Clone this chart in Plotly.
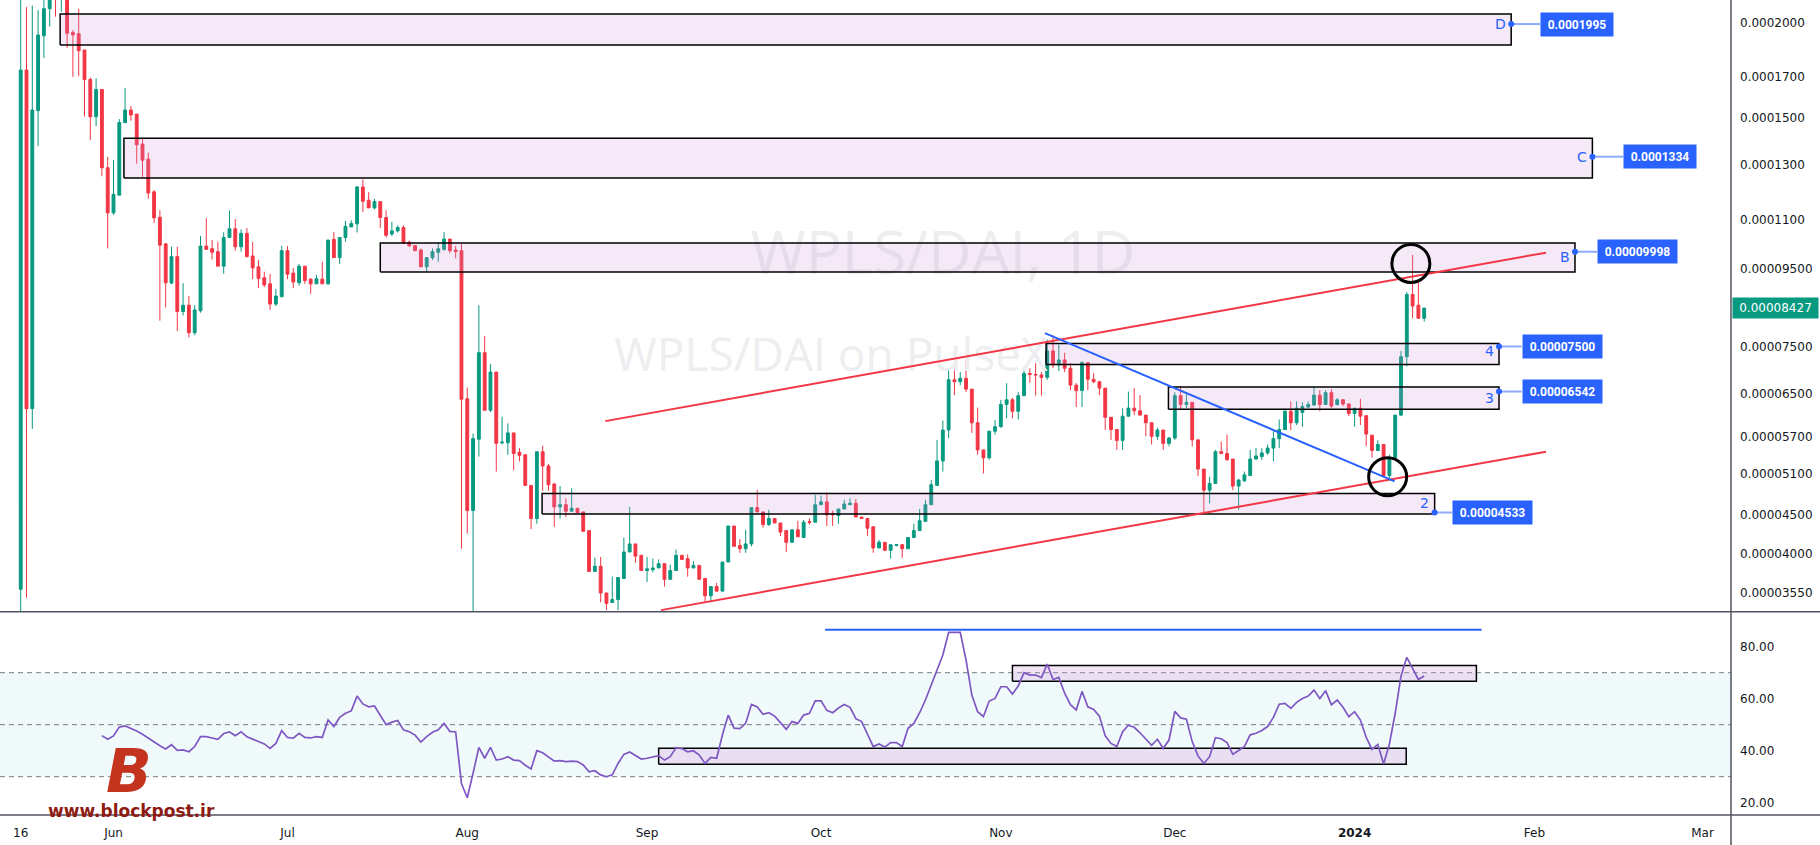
import numpy as np
import pandas as pd
import plotly.graph_objects as go

# ---------------- data (prices in units of 1e-5) ----------------
START = pd.Timestamp("2023-05-16")
SCALE = 1e-5

opens = [
    3.59, 17.35, 6.21, 15.34, 19.25, 20.9, 22.8, 21.7, 22.2, 19.45,
    19.37, 18.44, 16.86, 15.06, 16.36, 12.9, 11.25, 11.87, 14.79, 15.37,
    15.18, 13.86, 13.24, 11.99, 11.1, 10.24, 9.09, 9.85, 8.34, 8.5,
    7.82, 8.36, 10.17, 10.09, 10.0, 9.57, 10.44, 10.72, 10.15, 10.57,
    9.87, 9.55, 9.24, 9.07, 8.53, 8.72, 10.03, 9.37, 9.1, 9.57,
    9.2, 9.07, 9.2, 9.07, 10.38, 9.82, 10.44, 10.78, 10.88, 12.17,
    11.69, 11.42, 11.64, 11.09, 10.55, 10.65, 10.76, 10.29, 10.19, 10.05,
    9.55, 9.82, 9.98, 10.07, 10.39, 10.05, 10.03, 6.4, 4.56, 5.66,
    7.36, 6.18, 6.94, 5.6, 5.6, 5.77, 5.44, 5.4, 4.92, 4.45,
    5.45, 5.22, 4.94, 4.61, 4.64, 4.55, 4.59, 4.54, 4.29, 3.79,
    3.85, 3.55, 3.45, 3.48, 3.71, 4.02, 4.12, 3.98, 3.8, 3.81,
    3.83, 3.88, 3.7, 3.8, 3.98, 3.94, 3.83, 3.86, 3.71, 3.52,
    3.62, 3.57, 3.9, 4.35, 4.1, 4.06, 4.12, 4.6, 4.54, 4.37,
    4.45, 4.39, 4.29, 4.14, 4.3, 4.2, 4.41, 4.4, 4.64, 4.68,
    4.52, 4.49, 4.58, 4.64, 4.66, 4.47, 4.45, 4.34, 4.07, 4.14,
    4.04, 4.1, 4.11, 4.06, 4.2, 4.29, 4.41, 4.64, 4.92, 5.3,
    5.82, 6.78, 6.74, 6.81, 6.59, 5.95, 5.48, 5.35, 5.8, 5.88,
    6.29, 6.38, 6.16, 6.46, 6.91, 6.89, 6.88, 6.83, 7.4, 7.09,
    7.2, 7.02, 6.67, 6.56, 7.14, 6.79, 6.74, 6.61, 6.05, 5.83,
    5.64, 6.07, 6.22, 6.17, 6.09, 5.95, 5.71, 5.82, 5.59, 5.68,
    6.46, 6.29, 6.33, 5.65, 5.17, 4.85, 4.95, 5.45, 5.42, 5.33,
    4.91, 4.99, 5.07, 5.33, 5.37, 5.43, 5.51, 5.67, 5.83, 6.16,
    5.95, 6.14, 6.24, 6.28, 6.47, 6.29, 6.52, 6.29, 6.38, 6.3,
    6.12, 6.22, 6.08, 5.73, 5.47, 5.57, 5.07, 5.35, 6.09, 7.27,
    8.78, 8.5, 8.17,
]
highs = [
    22.5, 21.0, 21.1, 20.81, 21.8, 23.0, 23.5, 23.0, 22.6, 19.59,
    20.9, 18.44, 16.97, 16.92, 16.36, 13.33, 13.2, 14.95, 16.43, 15.56,
    15.18, 14.08, 13.51, 12.05, 11.34, 10.26, 10.15, 10.15, 9.09, 8.74,
    8.5, 10.49, 11.07, 10.36, 10.31, 10.61, 11.32, 11.04, 10.7, 10.74,
    10.3, 9.75, 9.41, 9.35, 8.93, 10.18, 10.17, 9.52, 9.63, 9.57,
    9.23, 9.32, 9.7, 10.36, 10.62, 10.44, 10.98, 11.0, 12.2, 12.45,
    11.98, 11.74, 11.64, 11.34, 10.95, 10.83, 10.83, 10.34, 10.19, 10.1,
    9.82, 10.1, 10.29, 10.61, 10.39, 10.18, 10.24, 6.62, 5.76, 8.5,
    7.74, 7.11, 6.94, 6.06, 5.94, 5.77, 5.51, 5.4, 4.92, 5.45,
    5.55, 5.25, 4.96, 4.91, 4.73, 4.88, 4.59, 4.54, 4.29, 3.95,
    3.96, 3.55, 3.73, 3.72, 4.2, 4.61, 4.12, 3.98, 3.96, 3.94,
    3.93, 3.88, 3.87, 4.05, 3.98, 3.99, 3.91, 3.86, 3.71, 3.62,
    3.66, 3.9, 4.35, 4.35, 4.18, 4.3, 4.6, 4.85, 4.54, 4.57,
    4.45, 4.39, 4.29, 4.3, 4.42, 4.43, 4.45, 4.78, 4.77, 4.82,
    4.56, 4.58, 4.71, 4.73, 4.72, 4.47, 4.45, 4.34, 4.17, 4.14,
    4.11, 4.12, 4.11, 4.2, 4.38, 4.58, 4.71, 5.0, 5.65, 5.99,
    7.02, 7.49, 6.94, 7.21, 6.59, 6.23, 5.48, 5.8, 6.0, 6.38,
    6.71, 6.42, 6.53, 7.02, 7.02, 7.13, 6.94, 7.66, 7.76, 7.54,
    7.36, 7.13, 6.71, 7.17, 7.14, 6.92, 6.74, 6.61, 6.05, 5.83,
    6.22, 6.54, 6.61, 6.47, 6.09, 5.95, 5.86, 5.82, 5.7, 6.53,
    6.65, 6.53, 6.33, 5.65, 5.17, 5.05, 5.48, 5.62, 5.74, 5.33,
    5.02, 5.13, 5.48, 5.51, 5.51, 5.57, 5.8, 6.01, 6.22, 6.35,
    6.35, 6.33, 6.35, 6.64, 6.57, 6.57, 6.59, 6.41, 6.39, 6.3,
    6.22, 6.4, 6.08, 5.73, 5.64, 5.57, 5.4, 6.09, 7.4, 8.85,
    9.9, 9.18, 8.43,
]
lows = [
    3.36, 3.50, 5.84, 13.79, 18.0, 19.8, 20.4, 20.7, 18.56, 17.0,
    17.03, 15.06, 14.03, 14.64, 12.57, 10.1, 11.18, 11.87, 14.79, 14.88,
    13.06, 12.55, 11.74, 10.91, 8.11, 8.44, 9.06, 7.86, 8.24, 7.71,
    7.76, 8.31, 10.07, 9.77, 9.57, 9.35, 10.44, 10.03, 10.0, 9.83,
    9.2, 8.95, 8.98, 8.38, 8.48, 8.72, 9.2, 8.95, 9.02, 9.07,
    8.8, 9.07, 9.07, 9.04, 9.82, 9.63, 10.31, 10.78, 10.6, 11.28,
    11.42, 11.37, 10.75, 10.44, 10.49, 10.6, 10.26, 10.14, 10.03, 9.55,
    9.41, 9.75, 9.7, 10.03, 9.95, 9.8, 4.06, 4.25, 3.3, 5.37,
    6.18, 6.15, 5.13, 5.57, 5.4, 5.15, 5.29, 4.92, 4.31, 4.38,
    4.84, 4.84, 4.34, 4.45, 4.47, 4.55, 4.53, 4.28, 3.79, 3.79,
    3.45, 3.37, 3.45, 3.37, 3.71, 4.02, 3.89, 3.8, 3.67, 3.78,
    3.83, 3.62, 3.7, 3.8, 3.93, 3.73, 3.83, 3.7, 3.45, 3.46,
    3.57, 3.57, 3.9, 4.09, 4.01, 4.01, 4.09, 4.54, 4.33, 4.35,
    4.39, 4.22, 4.02, 4.14, 4.21, 4.2, 4.37, 4.4, 4.64, 4.35,
    4.35, 4.38, 4.58, 4.64, 4.47, 4.45, 4.22, 4.01, 4.07, 4.04,
    3.94, 4.09, 3.95, 4.06, 4.2, 4.29, 4.41, 4.64, 4.92, 5.13,
    5.68, 6.47, 6.67, 6.53, 5.77, 5.4, 5.1, 5.32, 5.74, 5.86,
    6.03, 6.03, 6.01, 6.45, 6.72, 6.46, 6.46, 6.78, 7.02, 6.96,
    6.94, 6.57, 6.24, 6.24, 6.57, 6.71, 6.47, 5.82, 5.65, 5.48,
    5.48, 6.07, 6.09, 6.09, 5.71, 5.57, 5.65, 5.48, 5.54, 5.65,
    6.19, 6.22, 5.54, 5.06, 4.52, 4.66, 4.94, 5.42, 5.3, 4.85,
    4.57, 4.97, 5.06, 5.32, 5.32, 5.4, 5.29, 5.51, 5.83, 5.82,
    5.91, 5.88, 6.23, 6.27, 6.16, 6.28, 6.22, 6.27, 6.26, 6.07,
    5.88, 5.91, 5.54, 5.35, 5.46, 5.05, 5.03, 5.33, 6.07, 7.06,
    8.17, 8.17, 8.09,
]
closes = [
    17.35, 6.21, 15.37, 19.3, 20.9, 22.8, 21.7, 22.2, 19.4, 19.3,
    18.4, 16.86, 15.06, 16.36, 12.9, 11.25, 11.9, 14.8, 15.37, 15.14,
    13.83, 13.2, 11.95, 11.08, 10.2, 9.1, 9.85, 8.34, 8.5, 7.82,
    8.38, 10.17, 10.07, 9.98, 9.57, 10.44, 10.72, 10.15, 10.57, 9.85,
    9.52, 9.22, 9.04, 8.53, 8.74, 10.03, 9.34, 9.12, 9.57, 9.16,
    9.07, 9.21, 9.07, 10.36, 9.82, 10.44, 10.8, 10.89, 12.17, 11.65,
    11.42, 11.64, 11.09, 10.51, 10.65, 10.76, 10.26, 10.18, 10.03, 9.55,
    9.82, 10.0, 10.09, 10.39, 10.03, 10.0, 6.39, 4.56, 5.67, 7.36,
    6.18, 6.94, 5.59, 5.61, 5.77, 5.42, 5.39, 4.92, 4.45, 5.45,
    5.22, 4.93, 4.61, 4.64, 4.55, 4.59, 4.53, 4.28, 3.79, 3.85,
    3.55, 3.44, 3.48, 3.72, 4.02, 4.12, 3.97, 3.8, 3.82, 3.83,
    3.88, 3.7, 3.8, 3.98, 3.93, 3.83, 3.86, 3.7, 3.52, 3.62,
    3.57, 3.9, 4.35, 4.09, 4.06, 4.12, 4.6, 4.54, 4.37, 4.45,
    4.39, 4.27, 4.14, 4.3, 4.21, 4.4, 4.4, 4.64, 4.68, 4.5,
    4.5, 4.58, 4.65, 4.66, 4.47, 4.45, 4.32, 4.07, 4.14, 4.04,
    4.11, 4.11, 4.06, 4.2, 4.29, 4.42, 4.64, 4.93, 5.3, 5.82,
    6.78, 6.74, 6.81, 6.59, 5.95, 5.48, 5.35, 5.8, 5.88, 6.29,
    6.38, 6.16, 6.46, 6.91, 6.89, 6.88, 6.83, 7.4, 7.09, 7.2,
    7.02, 6.67, 6.56, 7.14, 6.79, 6.74, 6.61, 6.05, 5.83, 5.64,
    6.07, 6.22, 6.17, 6.09, 5.95, 5.71, 5.82, 5.59, 5.68, 6.46,
    6.29, 6.33, 5.65, 5.17, 4.85, 4.95, 5.45, 5.42, 5.32, 4.91,
    5.0, 5.08, 5.33, 5.38, 5.43, 5.51, 5.67, 5.83, 6.16, 5.95,
    6.22, 6.25, 6.29, 6.47, 6.29, 6.52, 6.26, 6.38, 6.3, 6.12,
    6.22, 6.07, 5.75, 5.47, 5.57, 5.07, 5.35, 6.09, 7.27, 8.78,
    8.48, 8.17, 8.427,
]

RSI_FIRST = 14
rsi_values = [
    45.8, 44.4, 45.7, 49.1, 49.5, 48.7, 47.6, 46.3, 44.8, 43.3,
    41.9, 40.7, 42.3, 40.1, 40.3, 39.6, 41.6, 45.4, 45.4, 44.9,
    44.4, 46.6, 47.2, 45.8, 47.3, 45.4, 44.4, 43.5, 42.6, 40.9,
    42.8, 47.7, 45.1, 44.8, 46.7, 45.1, 44.9, 45.4, 45.1, 51.8,
    49.3, 52.8, 54.4, 55.3, 61.0, 58.0, 56.9, 57.2, 53.7, 50.0,
    51.0, 51.6, 48.0, 47.3, 46.0, 43.3, 45.4, 47.1, 48.0, 50.5,
    47.4, 47.2, 27.4, 21.9, 31.3, 41.3, 37.1, 41.3, 36.4, 36.8,
    37.7, 36.4, 36.2, 34.4, 33.0, 40.0, 39.2, 37.6, 36.0, 36.2,
    35.8, 36.0, 35.8, 34.5, 31.9, 32.3, 30.7, 30.0, 30.7, 35.1,
    38.6, 39.5, 38.2, 36.8, 37.1, 37.6, 38.1, 36.4, 37.7, 41.2,
    40.8, 39.6, 40.0, 38.3, 35.1, 37.4, 37.1, 46.1, 53.7, 48.7,
    48.5, 50.5, 57.8, 56.8, 54.0, 54.6, 53.3, 50.8, 48.2, 51.2,
    50.5, 53.7, 54.4, 59.2, 59.2, 55.5, 54.6, 56.4, 57.8, 56.7,
    52.3, 51.2, 46.7, 41.6, 42.6, 41.4, 43.1, 43.1, 41.6, 48.6,
    50.5, 54.6, 59.5, 65.3, 71.0, 76.8, 85.5, 85.5, 85.5, 74.9,
    61.4, 55.0, 53.1, 59.1, 60.1, 64.6, 64.6, 61.8, 64.9, 70.0,
    69.1, 69.1, 68.1, 73.3, 67.4, 68.2, 62.1, 57.7, 55.7, 62.8,
    56.9, 55.9, 53.3, 45.7, 42.8, 41.6, 47.3, 49.8, 49.0, 46.9,
    44.4, 42.1, 44.4, 40.9, 44.1, 55.1, 52.6, 52.1, 43.5, 38.0,
    35.1, 37.7, 45.0, 44.6, 43.1, 38.6, 40.1, 41.6, 46.1, 46.7,
    47.8, 49.3, 52.8, 57.9, 58.2, 56.3, 58.6, 60.1, 61.0, 63.3,
    60.1, 63.1, 57.6, 59.5, 56.7, 53.1, 55.0, 51.8, 45.1, 40.5,
    42.4, 34.9, 42.6, 54.4, 68.7, 75.9, 71.7, 67.4, 68.7,
]

price_tick_values = [0.0002000, 0.0001700, 0.0001500, 0.0001300, 0.0001100,
                     0.00009500, 0.00007500, 0.00006500, 0.00005700, 0.00005100,
                     0.00004500, 0.00004000, 0.00003550]
price_tick_labels = ["0.0002000", "0.0001700", "0.0001500", "0.0001300", "0.0001100",
                     "0.00009500", "0.00007500", "0.00006500", "0.00005700", "0.00005100",
                     "0.00004500", "0.00004000", "0.00003550"]
rsi_tick_values = [20, 40, 60, 80]
rsi_tick_labels = ["20.00", "40.00", "60.00", "80.00"]
date_tick_values = ["2023-05-16", "2023-06-01", "2023-07-01", "2023-08-01", "2023-09-01",
                    "2023-10-01", "2023-11-01", "2023-12-01", "2024-01-01", "2024-02-01",
                    "2024-03-01"]
date_tick_labels = ["16", "Jun", "Jul", "Aug", "Sep", "Oct", "Nov", "Dec", "<b>2024</b>",
                    "Feb", "Mar"]

# supply / demand zones
zone_names = ["D", "C", "B", "4", "3", "2"]
zone_levels = [0.0001995, 0.0001334, 0.00009998, 0.00007500, 0.00006542, 0.00004533]
zone_level_labels = ["0.0001995", "0.0001334", "0.00009998", "0.00007500", "0.00006542", "0.00004533"]
zone_highs = [20.57, 14.11, 10.27, 7.57, 6.63, 4.80]
zone_lows = [18.72, 12.50, 9.40, 7.10, 6.20, 4.51]
zone_first_day = [6.8, 17.8, 62.0, 176.8, 197.9, 89.9]
zone_last_day = [257.0, 271.0, 268.0, 254.9, 254.9, 243.8]
zone_letter_price = [19.95, 13.34, 9.85, 7.40, 6.42, 4.67]
label_first_day = [262.0, 276.3, 271.8, 258.8, 258.8, 246.8]
label_widths = [64, 64, 71, 71, 71, 71]

last_price = 0.00008427
last_price_label = "0.00008427"

# drawn trend lines (day offset, price x1e-5)
upper_channel_days = [100.8, 263.0]
upper_channel_prices = [5.98, 9.97]
lower_channel_days = [110.4, 263.0]
lower_channel_prices = [3.37, 5.45]
down_trend_days = [176.6, 236.9]
down_trend_prices = [7.81, 4.98]
circle_days = [239.7, 235.7]
circle_prices = [9.65, 5.05]

# RSI drawings
rsi_ceiling_days = [138.7, 251.9]
rsi_ceiling_value = 86.5
rsi_box_days = [[171.0, 251.0], [110.0, 238.9]]
rsi_box_values = [[66.7, 72.8], [34.8, 40.9]]
rsi_levels = [70, 50, 30]

assert len(opens) == len(highs) == len(lows) == len(closes) == 243
assert len(rsi_values) == len(opens) - RSI_FIRST

# ---------------- helpers ----------------
UP = "#089981"
DOWN = "#F23645"
BLUE = "#2962FF"
ZONE_FILL = "rgba(206,147,216,0.2)"
AXIS_FONT = dict(family="DejaVu Sans", size=12, color="#131722")

PLOT_W = 1731.0
PLOT_H = 815.0
SPLIT = (PLOT_H - 611.7) / PLOT_H


def day(d):
    return START + pd.Timedelta(days=float(d))


dates = pd.date_range(START, periods=len(opens), freq="D")
fig = go.Figure()

# watermark (behind everything)
fig.add_trace(go.Scatter(x=[day(159.0)], y=[9.78 * SCALE], mode="text", text=["WPLS/DAI, 1D"],
                         textfont=dict(size=60, color="#EDEEF0", family="Open Sans"),
                         hoverinfo="skip", showlegend=False))
fig.add_trace(go.Scatter(x=[day(139.7)], y=[7.20 * SCALE], mode="text", text=["WPLS/DAI on PulseX"],
                         textfont=dict(size=46, color="#EDEEF0", family="Open Sans"),
                         hoverinfo="skip", showlegend=False))

# zones
for i in range(len(zone_names)):
    a, b = day(zone_first_day[i]), day(zone_last_day[i])
    lo, hi = zone_lows[i] * SCALE, zone_highs[i] * SCALE
    fig.add_trace(go.Scatter(x=[a, b, b, a, a], y=[lo, lo, hi, hi, lo], mode="lines",
                             fill="toself", fillcolor=ZONE_FILL,
                             line=dict(color="#000000", width=1.5),
                             hoverinfo="skip", showlegend=False))

# candles
fig.add_trace(go.Candlestick(
    x=dates,
    open=[v * SCALE for v in opens], high=[v * SCALE for v in highs],
    low=[v * SCALE for v in lows], close=[v * SCALE for v in closes],
    increasing=dict(line=dict(color=UP, width=1), fillcolor=UP),
    decreasing=dict(line=dict(color=DOWN, width=1), fillcolor=DOWN),
    whiskerwidth=0, showlegend=False, hoverinfo="skip"))

# trend lines
for ds, ps, col in [(upper_channel_days, upper_channel_prices, DOWN),
                    (lower_channel_days, lower_channel_prices, DOWN),
                    (down_trend_days, down_trend_prices, BLUE)]:
    fig.add_trace(go.Scatter(x=[day(d) for d in ds], y=[p * SCALE for p in ps], mode="lines",
                             line=dict(color=col, width=2), hoverinfo="skip", showlegend=False))

# level connectors
for i in range(len(zone_names)):
    fig.add_trace(go.Scatter(x=[day(zone_last_day[i]), day(label_first_day[i])],
                             y=[zone_levels[i], zone_levels[i]], mode="lines",
                             line=dict(color="#8FA9FF", width=2),
                             hoverinfo="skip", showlegend=False))
    fig.add_trace(go.Scatter(x=[day(zone_last_day[i])], y=[zone_levels[i]], mode="markers",
                             marker=dict(color=BLUE, size=6),
                             hoverinfo="skip", showlegend=False))

# circles
fig.add_trace(go.Scatter(x=[day(d) for d in circle_days], y=[p * SCALE for p in circle_prices],
                         mode="markers",
                         marker=dict(symbol="circle-open", size=38, color="#000000",
                                     line=dict(width=3, color="#000000")),
                         hoverinfo="skip", showlegend=False))

# RSI drawings + line
for (d0, d1), (v0, v1) in zip(rsi_box_days, rsi_box_values):
    a, b = day(d0), day(d1)
    fig.add_trace(go.Scatter(x=[a, b, b, a, a], y=[v0, v0, v1, v1, v0], mode="lines",
                             fill="toself", fillcolor="rgba(206,147,216,0.25)",
                             line=dict(color="#000000", width=1.5), yaxis="y2",
                             hoverinfo="skip", showlegend=False))
fig.add_trace(go.Scatter(x=[day(d) for d in rsi_ceiling_days],
                         y=[rsi_ceiling_value, rsi_ceiling_value], mode="lines",
                         line=dict(color=BLUE, width=2), yaxis="y2",
                         hoverinfo="skip", showlegend=False))
fig.add_trace(go.Scatter(x=dates[RSI_FIRST:], y=rsi_values, mode="lines",
                         line=dict(color="#7E57C2", width=1.7), yaxis="y2",
                         hoverinfo="skip", showlegend=False))

# ---------------- shapes ----------------
shapes = [dict(type="rect", xref="paper", x0=0, x1=1, yref="y2", y0=30, y1=70,
               fillcolor="#F1FAFB", line=dict(width=0), layer="below")]
for v in rsi_levels:
    shapes.append(dict(type="line", xref="paper", x0=0, x1=1, yref="y2", y0=v, y1=v,
                       line=dict(color="#787B86", width=1, dash="5px,4px"), layer="below"))
right_edge = 1820.0 / PLOT_W
for yp in [SPLIT, 0.0]:
    shapes.append(dict(type="line", xref="paper", x0=0, x1=right_edge, yref="paper", y0=yp, y1=yp,
                       line=dict(color="#50535E", width=1.5)))
shapes.append(dict(type="line", xref="paper", x0=1, x1=1, yref="paper", y0=-30 / PLOT_H, y1=1,
                   line=dict(color="#50535E", width=1.5)))

# ---------------- annotations ----------------
annotations = []
for i in range(len(zone_names)):
    annotations.append(dict(x=day(label_first_day[i]), xanchor="left", y=np.log10(zone_levels[i]),
                            yanchor="middle", xref="x", yref="y",
                            text="<b>" + zone_level_labels[i] + "</b>",
                            showarrow=False, bgcolor=BLUE, borderpad=4, width=label_widths[i],
                            height=15, font=dict(family="Roboto", size=12, color="white")))
    annotations.append(dict(x=day(zone_last_day[i] - 0.6), xanchor="right",
                            y=np.log10(zone_letter_price[i] * SCALE), yanchor="middle",
                            xref="x", yref="y", text=zone_names[i], showarrow=False,
                            font=dict(family="DejaVu Sans", size=14, color=BLUE)))
annotations.append(dict(x=1.0006, xanchor="left", xref="paper", y=np.log10(last_price), yref="y",
                        yanchor="middle", text=last_price_label, showarrow=False, bgcolor=UP,
                        borderpad=3, width=79, height=14,
                        font=dict(family="DejaVu Sans", size=12, color="white")))
annotations.append(dict(x=129 / PLOT_W, y=(PLOT_H - 771) / PLOT_H, xref="paper", yref="paper",
                        xanchor="center", yanchor="middle",
                        text="<b><i>B</i></b>", showarrow=False,
                        font=dict(family="DejaVu Sans", size=60, color="#C3331D")))
annotations.append(dict(x=131.5 / PLOT_W, y=(PLOT_H - 811) / PLOT_H, xref="paper", yref="paper",
                        xanchor="center", yanchor="middle",
                        text="<b>www.blockpost.ir</b>", showarrow=False,
                        font=dict(family="DejaVu Sans", size=17, color="#8E1B12")))

fig.update_layout(
    width=1820, height=845,
    margin=dict(l=0, r=int(1820 - PLOT_W), t=0, b=int(845 - PLOT_H)),
    paper_bgcolor="white", plot_bgcolor="white", showlegend=False,
    xaxis=dict(type="date", range=[day(-3.57), day(294.9)], anchor="y2", domain=[0, 1],
               tickmode="array", tickvals=date_tick_values, ticktext=date_tick_labels,
               showgrid=False, zeroline=False, showline=False, ticks="",
               tickfont=AXIS_FONT, ticklabelstandoff=9, rangeslider=dict(visible=False)),
    yaxis=dict(type="log", domain=[SPLIT, 1], range=[np.log10(3.354e-5), np.log10(2.146e-4)],
               side="right", anchor="x", tickmode="array", tickvals=price_tick_values,
               ticktext=price_tick_labels, showgrid=False, zeroline=False, showline=False,
               ticks="", tickfont=AXIS_FONT, ticklabelstandoff=8),
    yaxis2=dict(domain=[0, SPLIT], range=[15.27, 93.46], side="right", anchor="x",
                tickmode="array", tickvals=rsi_tick_values, ticktext=rsi_tick_labels,
                showgrid=False, zeroline=False, showline=False, ticks="",
                tickfont=AXIS_FONT, ticklabelstandoff=8),
    shapes=shapes, annotations=annotations,
)

fig.write_html("out.html")
